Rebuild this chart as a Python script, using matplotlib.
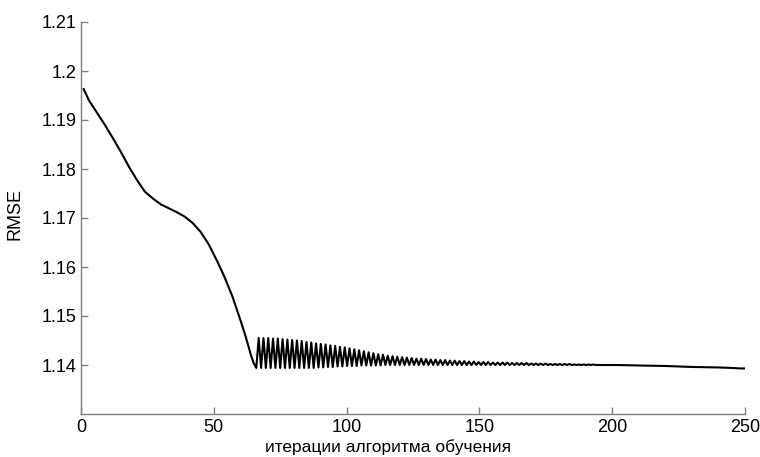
import matplotlib
matplotlib.use("Agg")
import matplotlib.pyplot as plt

# descent part (iteration, RMSE)
descent_x = [1, 3, 6, 9, 12, 15, 18, 21, 24, 27, 30, 33, 36, 39, 42, 45, 48, 51, 54, 57, 60, 62, 64, 65]
descent_y = [1.1963, 1.1940, 1.1915, 1.1890, 1.1863, 1.1835, 1.1805, 1.1778, 1.1754, 1.1740, 1.1728, 1.1720, 1.1712, 1.1703, 1.1690, 1.1672, 1.1647, 1.1615, 1.1580, 1.1540, 1.1492, 1.1458, 1.1420, 1.1404]

# oscillation after the drop: troughs and peaks alternate,
# one trough/peak pair every osc_period iterations, starting at osc_start
osc_start = 66
osc_period = 1.8
trough_y = [
    1.1394, 1.1394, 1.1394, 1.1394, 1.1394, 1.1394, 1.1394, 1.1394, 1.1394, 1.1394, 1.1394, 1.1394, 1.1394, 1.1395, 1.1395,
    1.1396, 1.1396, 1.1397, 1.1397, 1.1398, 1.1398, 1.1398, 1.1399, 1.1399, 1.1399, 1.1399, 1.1399, 1.1400, 1.1400, 1.1400,
    1.1400, 1.1400, 1.1400, 1.1400, 1.1400, 1.1400, 1.1400, 1.1400, 1.1400, 1.1400, 1.1400, 1.1400, 1.1400, 1.1400, 1.1400,
    1.1400, 1.1400, 1.1400, 1.1400, 1.1400, 1.1400, 1.1400, 1.1400, 1.1400, 1.1400, 1.1400, 1.1400, 1.1400, 1.1400, 1.1400,
    1.1400, 1.1400, 1.1400, 1.1400, 1.1400, 1.1400, 1.1400, 1.1400, 1.1400, 1.1400, 1.1400, 1.1400, 1.1400, 1.1400, 1.1400,
]
peak_y = [
    1.1455, 1.1455, 1.1455, 1.1454, 1.1454, 1.1453, 1.1452, 1.1451, 1.1450, 1.1449, 1.1447, 1.1446, 1.1444, 1.1443, 1.1442,
    1.1440, 1.1439, 1.1437, 1.1436, 1.1434, 1.1432, 1.1430, 1.1428, 1.1426, 1.1424, 1.1422, 1.1421, 1.1419, 1.1418, 1.1417,
    1.1416, 1.1415, 1.1414, 1.1413, 1.1413, 1.1412, 1.1411, 1.1411, 1.1410, 1.1410, 1.1409, 1.1409, 1.1408, 1.1408, 1.1407,
    1.1407, 1.1406, 1.1406, 1.1406, 1.1405, 1.1405, 1.1405, 1.1405, 1.1404, 1.1404, 1.1404, 1.1404, 1.1403, 1.1403, 1.1403,
    1.1403, 1.1402, 1.1402, 1.1402, 1.1402, 1.1402, 1.1401, 1.1401, 1.1401, 1.1401, 1.1401, 1.1400, 1.1400, 1.1400, 1.1400,
]

# tail, almost flat
tail_x = [202, 210, 220, 230, 240, 245, 248, 250]
tail_y = [1.1400, 1.1399, 1.1398, 1.1396, 1.1395, 1.1394, 1.1393, 1.1393]

xticks = [0, 50, 100, 150, 200, 250]
yticks = [1.14, 1.15, 1.16, 1.17, 1.18, 1.19, 1.2, 1.21]
ytick_labels = ["1.14", "1.15", "1.16", "1.17", "1.18", "1.19", "1.2", "1.21"]

# build the full series
x = list(descent_x)
y = list(descent_y)
for k in range(len(trough_y)):
    x.append(osc_start + osc_period * k)
    y.append(trough_y[k])
    x.append(osc_start + osc_period * (k + 0.5))
    y.append(peak_y[k])
x += tail_x
y += tail_y

plt.rcParams["font.family"] = ["Liberation Sans", "DejaVu Sans"]

fig = plt.figure(figsize=(7.6, 4.57), dpi=100)
ax = fig.add_axes([81 / 760, 1 - 414 / 457, (745 - 81) / 760, (414 - 22) / 457])

ax.plot(x, y, color="black", lw=1.5)

ax.set_xlim(0, 250)
ax.set_ylim(1.13, 1.21)
ax.set_xticks(xticks)
ax.set_yticks(yticks)
ax.set_yticklabels(ytick_labels)

for s in ["top", "right"]:
    ax.spines[s].set_visible(False)
for s in ["left", "bottom"]:
    ax.spines[s].set_color("#808080")
    ax.spines[s].set_linewidth(1.0)
ax.tick_params(direction="in", length=5, width=1, colors="#808080",
               labelcolor="black", labelsize=13)

ax.set_xlabel("итерации алгоритма обучения", fontsize=12.5)
ax.set_ylabel("RMSE", fontsize=13)
ax.xaxis.set_label_coords(0.462, -0.063)
ax.yaxis.set_label_coords(-0.086, 0.51)

fig.savefig("out.png", dpi=100)
